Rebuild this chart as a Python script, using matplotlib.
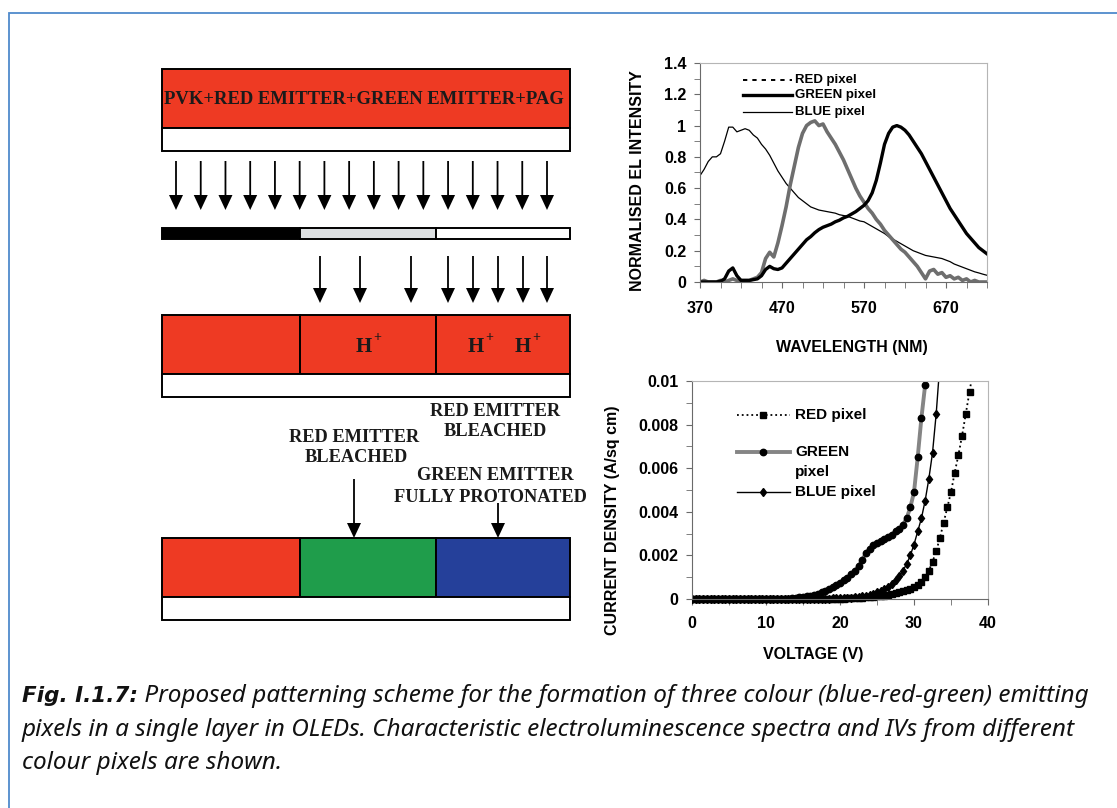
import numpy as np
import matplotlib.pyplot as plt
from matplotlib.patches import Rectangle
from matplotlib.ticker import FixedLocator, MultipleLocator, FuncFormatter

plt.rcParams['font.family'] = ['Liberation Sans', 'DejaVu Sans']
plt.rcParams['font.weight'] = 'bold'

wavelength = np.arange(370, 721, 5)
el_red = [0, 0, 0, 0, 0, 0.005, 0.02, 0.07, 0.09, 0.04,
          0.01, 0.01, 0.01, 0.015, 0.02, 0.04, 0.08, 0.10, 0.085, 0.08,
          0.09, 0.12, 0.15, 0.18, 0.21, 0.24, 0.27, 0.29, 0.315, 0.335,
          0.35, 0.36, 0.37, 0.385, 0.395, 0.41, 0.42, 0.435, 0.45, 0.47,
          0.49, 0.52, 0.57, 0.65, 0.76, 0.88, 0.95, 0.99, 1.0, 0.99,
          0.97, 0.94, 0.90, 0.86, 0.82, 0.77, 0.72, 0.67, 0.62, 0.57,
          0.52, 0.47, 0.43, 0.39, 0.35, 0.31, 0.28, 0.25, 0.22, 0.20,
          0.18]
el_green = [0, 0.01, 0, 0, 0, 0.01, 0, 0.01, 0.02, 0.01,
            0.01, 0.01, 0.01, 0.02, 0.03, 0.06, 0.15, 0.19, 0.16, 0.25,
            0.36, 0.48, 0.62, 0.74, 0.86, 0.95, 1.0, 1.02, 1.03, 1.0,
            1.01, 0.96, 0.92, 0.88, 0.83, 0.78, 0.72, 0.66, 0.60, 0.55,
            0.51, 0.47, 0.44, 0.40, 0.37, 0.33, 0.30, 0.27, 0.24, 0.21,
            0.19, 0.16, 0.13, 0.10, 0.06, 0.02, 0.07, 0.08, 0.05, 0.06,
            0.03, 0.04, 0.02, 0.03, 0.01, 0.02, 0.0, 0.01, 0.0, 0.0,
            0.0]
el_blue = [0.68, 0.72, 0.77, 0.80, 0.80, 0.82, 0.90, 0.99, 0.99, 0.96,
           0.97, 0.98, 0.97, 0.94, 0.92, 0.88, 0.85, 0.81, 0.76, 0.71,
           0.67, 0.63, 0.60, 0.57, 0.54, 0.52, 0.50, 0.48, 0.47, 0.46,
           0.455, 0.45, 0.445, 0.44, 0.43, 0.425, 0.42, 0.41, 0.40, 0.39,
           0.385, 0.37, 0.355, 0.34, 0.325, 0.31, 0.29, 0.275, 0.26, 0.245,
           0.23, 0.215, 0.20, 0.19, 0.18, 0.17, 0.165, 0.16, 0.155, 0.15,
           0.14, 0.13, 0.115, 0.105, 0.095, 0.085, 0.075, 0.065, 0.058, 0.05,
           0.043]

voltage = np.arange(0, 38.5, 0.5)
j_red = ([0.0] * 36 +
         [0.00001, 0.00001, 0.00001, 0.00002, 0.00002, 0.00002, 0.00003, 0.00003, 0.00004, 0.00005,
          0.00006, 0.00007, 0.00008, 0.0001, 0.00012, 0.00014, 0.00016, 0.00019, 0.00022, 0.00026,
          0.0003, 0.00035, 0.0004, 0.00047, 0.00055, 0.00065, 0.0008, 0.001, 0.0013, 0.0017,
          0.0022, 0.0028, 0.0035, 0.0042, 0.0049, 0.0058, 0.0066, 0.0075, 0.0085, 0.0095,
          0.0105])
j_green = ([0.0] * 24 +
           [0.00001, 0.00001, 0.00002, 0.00003, 0.00005, 0.00007, 0.0001, 0.00013, 0.00016, 0.0002,
            0.00025, 0.0003, 0.00037, 0.00045, 0.00054, 0.00064, 0.00075, 0.00086, 0.00098, 0.00113,
            0.0013, 0.0015, 0.0018, 0.0021, 0.0023, 0.0025, 0.00258, 0.00265, 0.00275, 0.00285,
            0.00295, 0.0031, 0.0032, 0.0034, 0.0037, 0.0042, 0.0049, 0.0065, 0.0083, 0.0098,
            0.0115])
j_blue = ([0.0] * 32 +
          [0.00001, 0.00001, 0.00001, 0.00002, 0.00002, 0.00002, 0.00003, 0.00003,
           0.00003, 0.00004, 0.00005, 0.00006, 0.00008, 0.0001, 0.00012, 0.00015, 0.00019, 0.00024,
           0.0003, 0.00037, 0.00046, 0.00057, 0.0007, 0.00085, 0.00105, 0.0013, 0.0016, 0.002,
           0.0025, 0.0031, 0.0037, 0.0045, 0.0055, 0.0067, 0.0085, 0.0108])

caption_1 = ' Proposed patterning scheme for the formation of three colour (blue-red-green) emitting'
caption_2 = 'pixels in a single layer in OLEDs. Characteristic electroluminescence spectra and IVs from different'
caption_3 = 'colour pixels are shown.'

W, H = 1117, 808
RED, GREEN, BLUE = '#ee3a23', '#1f9d4b', '#25409a'

fig = plt.figure(figsize=(W / 100, H / 100), dpi=100)

# pixel canvas for the scheme, frame and caption
cv = fig.add_axes([0, 0, 1, 1])
cv.set_xlim(0, W)
cv.set_ylim(H, 0)
cv.axis('off')


def px_axes(left, top, right, bottom):
    return fig.add_axes([left / W, 1 - bottom / H, (right - left) / W, (bottom - top) / H])


def box(x0, x1, y0, y1, color):
    cv.add_patch(Rectangle((x0, y0), x1 - x0, y1 - y0, fc=color, ec='k', lw=1.4))


def arrow_down(x, y0, y1):
    cv.arrow(x, y0, 0, y1 - y0, width=1.8, head_width=14, head_length=15,
             length_includes_head=True, fc='k', ec='k', lw=0)


serif = dict(family=['Liberation Serif', 'DejaVu Serif'], weight='bold',
             color='#1a1a1a', ha='center', va='center')

# frame
cv.plot([8.5, 8.5, W], [H, 12.5, 12.5], color='#4f8acb', lw=1.3, solid_joinstyle='miter')

xs = [162, 300, 436, 570]

# film before exposure
box(162, 570, 69, 128, RED)
box(162, 570, 128, 151, 'white')
cv.text(363.5, 100, 'PVK+RED EMITTER+GREEN EMITTER+PAG', fontsize=13.4, **serif)

for x in np.linspace(176, 547, 16):
    arrow_down(x, 161, 210)

# grey-scale mask
for (a, b), c in zip(zip(xs[:-1], xs[1:]), ['black', '#dde0e2', 'white']):
    box(a, b, 228, 239, c)

for x in [320, 360, 411, 448, 473, 498, 523, 547]:
    arrow_down(x, 256, 303)

# film after exposure
for a, b in zip(xs[:-1], xs[1:]):
    box(a, b, 315, 374, RED)
box(162, 570, 374, 397, 'white')
for hx in [364, 475.5, 522.5]:
    cv.text(hx, 347, 'H', fontsize=15, **serif)
    cv.text(hx + 13.5, 338, '+', fontsize=10, **serif)

# labels
cv.text(495, 412, 'RED EMITTER', fontsize=13.2, **serif)
cv.text(495, 432, 'BLEACHED', fontsize=13.2, **serif)
cv.text(354, 437, 'RED EMITTER', fontsize=13.2, **serif)
cv.text(356, 457, 'BLEACHED', fontsize=13.2, **serif)
cv.text(495, 475, 'GREEN EMITTER', fontsize=13.2, **serif)
cv.text(490, 497, 'FULLY PROTONATED', fontsize=13.2, **serif)
arrow_down(354, 479, 538)
arrow_down(498, 503, 538)

# final pixels
for (a, b), c in zip(zip(xs[:-1], xs[1:]), [RED, GREEN, BLUE]):
    box(a, b, 538, 597, c)
box(162, 570, 597, 620, 'white')

# caption
cap = dict(family=['Noto Sans', 'DejaVu Sans'], style='italic', fontsize=17.5,
           color='#111111', weight='normal')
t1 = cv.text(22, 696, 'Fig. I.1.7:', va='center', family='DejaVu Sans', style='italic',
             fontsize=15.5, color='#111111', weight='bold')
cv.annotate(caption_1, xy=(1, 0.5), xycoords=t1, va='center', **cap)
cv.text(22, 730, caption_2, va='center', **cap)
cv.text(22, 763, caption_3, va='center', **cap)


def style_axes(ax):
    for s in ['left', 'bottom']:
        ax.spines[s].set_color('#6a6a6a')
    for s in ['top', 'right']:
        ax.spines[s].set_color('#b5b5b5')
    ax.tick_params(which='both', direction='out', color='#6a6a6a', labelsize=11.5)
    ax.tick_params(which='major', length=4)
    ax.tick_params(which='minor', length=4)
    ax.yaxis.set_major_formatter(FuncFormatter(lambda v, p: '%g' % round(v, 6)))


# EL spectra
sp = px_axes(700, 63, 987, 282)
sp.plot(wavelength, el_blue, color='k', lw=0.9)
sp.plot(wavelength, el_green, color='#6e6e6e', lw=2.6)
sp.plot(wavelength, el_red, color='k', lw=2.4)
sp.set_xlim(370, 720)
sp.set_ylim(0, 1.4)
sp.xaxis.set_major_locator(FixedLocator([370, 470, 570, 670]))
sp.xaxis.set_minor_locator(FixedLocator(np.arange(370, 721, 25)))
sp.yaxis.set_major_locator(MultipleLocator(0.2))
sp.yaxis.set_minor_locator(MultipleLocator(0.1))
style_axes(sp)
sp.tick_params(axis='x', pad=10)
sp.tick_params(axis='y', pad=5.8)

sp_leg = [('RED pixel', dict(color='k', lw=1.4, dashes=(2.2, 2.6))),
          ('GREEN pixel', dict(color='k', lw=2.4)),
          ('BLUE pixel', dict(color='k', lw=0.9))]
for (lab, kw), yy in zip(sp_leg, [0.922, 0.854, 0.778]):
    sp.plot([0.150, 0.321], [yy, yy], transform=sp.transAxes, **kw)
    sp.text(0.331, yy, lab, transform=sp.transAxes, va='center', fontsize=9.5)

fig.text(637 / W, 1 - 181 / H, 'NORMALISED EL INTENSITY', rotation=90,
         ha='center', va='center', fontsize=11.5)
fig.text(852 / W, 1 - 347 / H, 'WAVELENGTH (NM)', ha='center', va='center', fontsize=11.5)

# IV curves
iv = px_axes(692, 381, 988, 599)
clip = Rectangle((0, -0.05), 1, 1.05, transform=iv.transAxes, fc='none', ec='none')
lines = []
lines += iv.plot(voltage[:len(j_red)], j_red, color='k', ls=':', lw=1.3,
                 marker='s', ms=5, mfc='k', mec='k')
lines += iv.plot(voltage[:len(j_green)], j_green, color='#858585', lw=2.8,
                 marker='o', ms=4.6, mfc='k', mec='k')
lines += iv.plot(voltage[:len(j_blue)], j_blue, color='k', lw=1.0,
                 marker='d', ms=4.5, mfc='k', mec='k')
for ln in lines:
    ln.set_clip_path(clip)
iv.set_xlim(0, 40)
iv.set_ylim(0, 0.01)
iv.xaxis.set_major_locator(MultipleLocator(10))
iv.xaxis.set_minor_locator(MultipleLocator(5))
iv.yaxis.set_major_locator(MultipleLocator(0.002))
iv.yaxis.set_minor_locator(MultipleLocator(0.001))
style_axes(iv)
iv.tick_params(axis='x', pad=8.6)
iv.tick_params(axis='y', pad=5.8)

iv_leg = [(0.844, ['RED pixel'], dict(color='k', ls=':', lw=1.3, marker='s', ms=5)),
          (0.674, ['GREEN', 'pixel'], dict(color='#858585', lw=2.8, marker='o', ms=4.6,
                                            mfc='k', mec='k')),
          (0.491, ['BLUE pixel'], dict(color='k', lw=1.0, marker='d', ms=4.5))]
for yy, labs, kw in iv_leg:
    iv.plot([0.152, 0.240, 0.331], [yy, yy, yy], transform=iv.transAxes,
            markevery=[1], **kw)
    for k, lab in enumerate(labs):
        iv.text(0.348, yy - k * 0.092, lab, transform=iv.transAxes, va='center', fontsize=11)

fig.text(613 / W, 1 - 520 / H, 'CURRENT DENSITY (A/sq cm)', rotation=90,
         ha='center', va='center', fontsize=11.5)
fig.text(813 / W, 1 - 655 / H, 'VOLTAGE (V)', ha='center', va='center', fontsize=11.5)

fig.savefig('out.png', dpi=100)
